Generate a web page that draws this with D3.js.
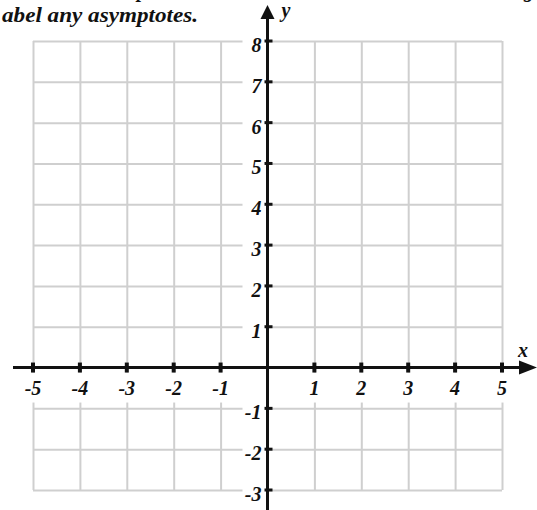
<!DOCTYPE html>
<html>
<head>
<meta charset="utf-8">
<script src="https://cdn.jsdelivr.net/npm/d3@7"></script>
<style>
  html, body { margin: 0; padding: 0; background: #fff; }
  svg { display: block; }
</style>
</head>
<body>
<svg id="chart" width="537" height="510"></svg>
<script>
// Blank coordinate grid for sketching a rational function
const xTickValues = [-5, -4, -3, -2, -1, 1, 2, 3, 4, 5];
const yTickValues = [-3, -2, -1, 1, 2, 3, 4, 5, 6, 7, 8];
const xTickLabels = ["-5", "-4", "-3", "-2", "-1", "1", "2", "3", "4", "5"];
const yTickLabels = ["-3", "-2", "-1", "1", "2", "3", "4", "5", "6", "7", "8"];
const xDomain = [-5, 5];
const yDomain = [-3, 8];
const instruction = "abel any asymptotes.";
const axisNames = ["x", "y"];

const W = 537, H = 510;
const svg = d3.select("#chart");

const x = d3.scaleLinear().domain(xDomain).range([33, 502]);
const y = d3.scaleLinear().domain(yDomain).range([490, 41]);

const gridColor = "#cfcfcf";
const ink = "#111";
const labelFont = "'Liberation Serif', 'Times New Roman', serif";
const labelSize = 20;

// grid lines from the library's axis generators
const gx = svg.append("g").attr("transform", `translate(0,${y(yDomain[0])})`)
  .call(d3.axisBottom(x).tickValues(d3.range(xDomain[0], xDomain[1] + 1))
    .tickSize(-(y(yDomain[0]) - y(yDomain[1]))).tickFormat(""));
const gy = svg.append("g").attr("transform", `translate(${x(xDomain[0])},0)`)
  .call(d3.axisLeft(y).tickValues(d3.range(yDomain[0], yDomain[1] + 1))
    .tickSize(-(x(xDomain[1]) - x(xDomain[0]))).tickFormat(""));
[gx, gy].forEach(g => {
  g.select(".domain").remove();
  g.selectAll(".tick line").attr("stroke", gridColor).attr("stroke-width", 2);
});

// previous line of the surrounding text (only its descenders reach into view)
svg.append("text").attr("x", 137).attr("y", -3)
  .attr("font-family", labelFont).attr("font-style", "italic").attr("font-weight", "bold")
  .attr("font-size", 20).attr("fill", ink).text("p");
svg.append("text").attr("x", 524).attr("y", -3)
  .attr("font-family", labelFont).attr("font-style", "italic").attr("font-weight", "bold")
  .attr("font-size", 20).attr("fill", ink).text("g");

svg.append("text").attr("x", 2).attr("y", 22)
  .attr("font-family", labelFont).attr("font-style", "italic").attr("font-weight", "bold")
  .attr("font-size", 21).attr("fill", ink)
  .attr("textLength", 196).attr("lengthAdjust", "spacingAndGlyphs")
  .text(instruction);

const x0 = x(0), y0 = y(0);

// x tick labels with white backing
const xl = svg.append("g");
xTickValues.forEach((v, i) => {
  xl.append("rect").attr("x", x(v) - 11).attr("y", y0 + 5).attr("width", 22).attr("height", 30).attr("fill", "#fff");
  xl.append("text").attr("x", x(v)).attr("y", y0 + 27)
    .attr("text-anchor", "middle")
    .attr("font-family", labelFont).attr("font-style", "italic").attr("font-weight", "bold")
    .attr("font-size", labelSize).attr("fill", ink).text(xTickLabels[i]);
});

// y tick labels with white backing
const yl = svg.append("g");
yTickValues.forEach((v, i) => {
  yl.append("rect").attr("x", x0 - 25).attr("y", y(v) - 9).attr("width", 23).attr("height", 20).attr("fill", "#fff");
  yl.append("text").attr("x", x0 - 6).attr("y", y(v) + 11)
    .attr("text-anchor", "end")
    .attr("font-family", labelFont).attr("font-style", "italic").attr("font-weight", "bold")
    .attr("font-size", labelSize).attr("fill", ink).text(yTickLabels[i]);
});

// axes
svg.append("line").attr("x1", 13).attr("x2", W - 12).attr("y1", y0).attr("y2", y0)
  .attr("stroke", ink).attr("stroke-width", 3);
svg.append("line").attr("x1", x0).attr("x2", x0).attr("y1", H).attr("y2", 14)
  .attr("stroke", ink).attr("stroke-width", 3);

// arrowheads
svg.append("path").attr("d", `M${W},${y0} L${W - 18},${y0 - 7} L${W - 18},${y0 + 7} Z`).attr("fill", ink);
svg.append("path").attr("d", `M${x0},5 L${x0 - 7},19 L${x0 + 7},19 Z`).attr("fill", ink);

// tick marks
xTickValues.forEach(v => {
  svg.append("line").attr("x1", x(v)).attr("x2", x(v)).attr("y1", y0 - 5).attr("y2", y0 + 5)
    .attr("stroke", ink).attr("stroke-width", 4);
});
yTickValues.forEach(v => {
  svg.append("line").attr("x1", x0 - 3).attr("x2", x0 + 5).attr("y1", y(v)).attr("y2", y(v))
    .attr("stroke", ink).attr("stroke-width", 3);
});

// axis names
svg.append("text").attr("x", 523).attr("y", 357).attr("text-anchor", "middle")
  .attr("font-family", labelFont).attr("font-style", "italic").attr("font-weight", "bold")
  .attr("font-size", labelSize).attr("fill", ink).text(axisNames[0]);
svg.append("text").attr("x", 286).attr("y", 17).attr("text-anchor", "middle")
  .attr("font-family", labelFont).attr("font-style", "italic").attr("font-weight", "bold")
  .attr("font-size", labelSize).attr("fill", ink).text(axisNames[1]);
</script>
</body>
</html>
